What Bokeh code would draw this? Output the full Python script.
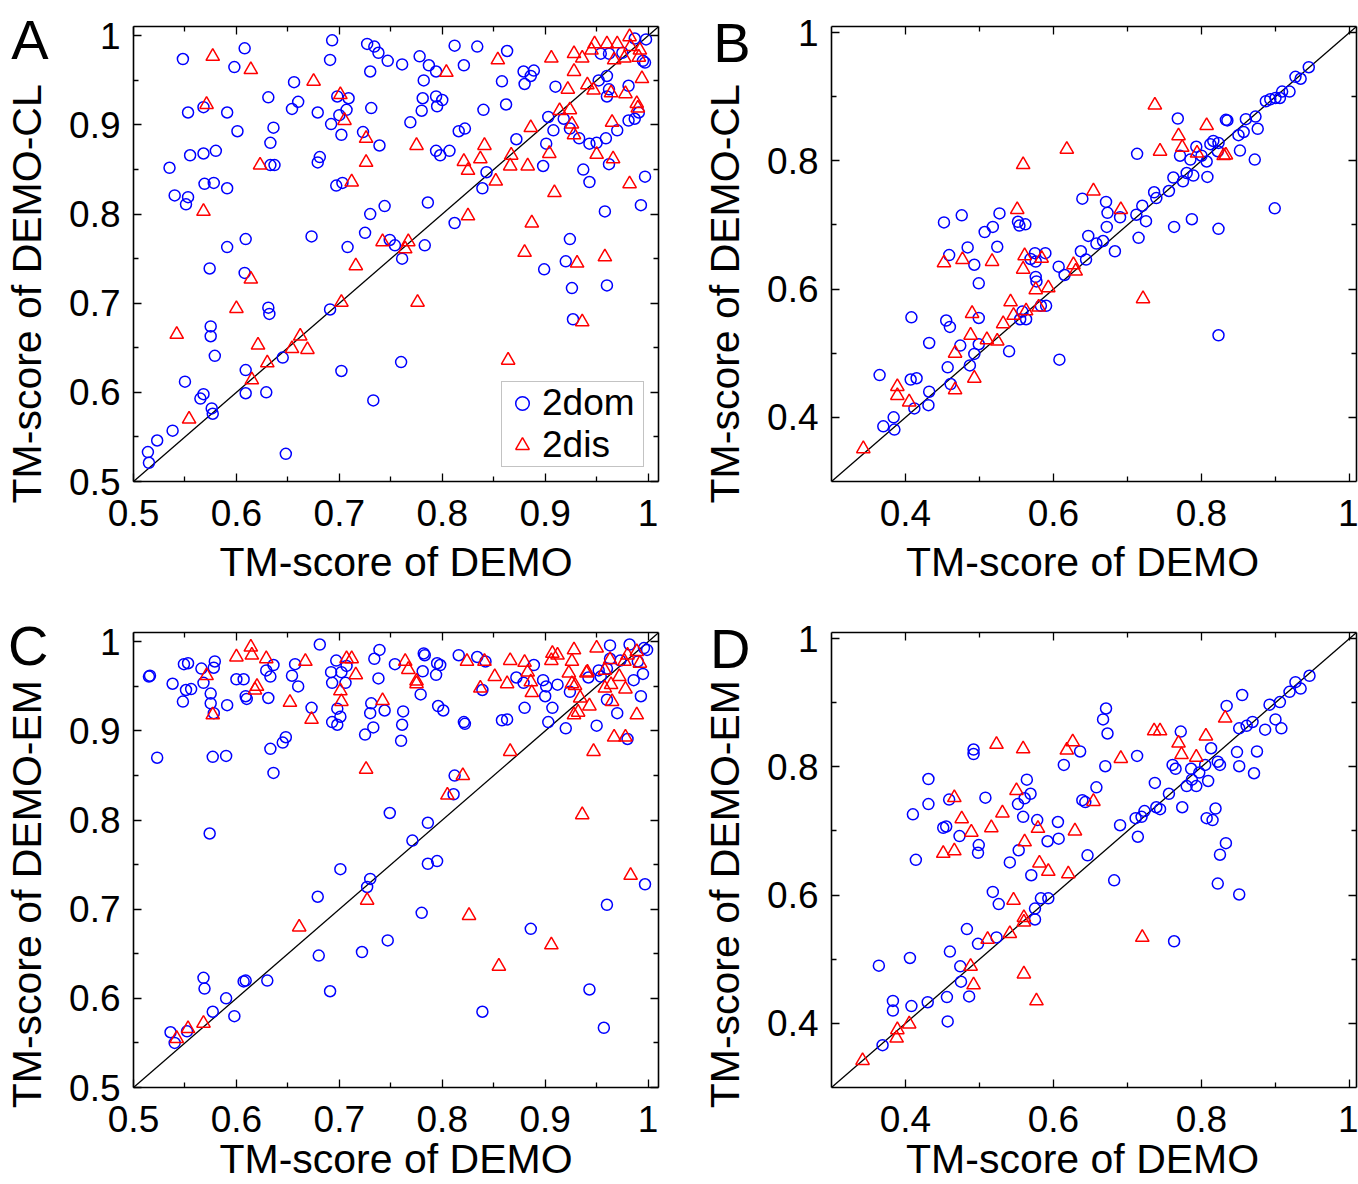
import math
from bokeh.plotting import figure
from bokeh.models import (Range1d, LinearAxis, FixedTicker, Legend, LegendItem)
from bokeh.layouts import row, column
from bokeh.embed import file_html
from bokeh.resources import INLINE

FONT = "Liberation Sans"
BLUE = "#0000ff"
RED = "#ff0000"
NBSP = "\u00a0"

# ---------------- tick values / labels ----------------
AC_TICKS = [0.5, 0.6, 0.7, 0.8, 0.9, 1.0]
AC_LABELS = ["0.5", "0.6", "0.7", "0.8", "0.9", "1"]
AC_MINOR = [0.55, 0.65, 0.75, 0.85, 0.95]
AC_RANGE_X = [0.5, 1.0101]
AC_RANGE_Y = [0.5, 1.0105]

BD_TICKS = [0.4, 0.6, 0.8, 1.0]
BD_LABELS = ["0.4", "0.6", "0.8", "1"]
BD_MINOR = [0.5, 0.7, 0.9]
BD_RANGE = [0.3, 1.0095]

XTITLE = "TM-score of DEMO"
YTITLE_CL = "TM-score of DEMO-CL"
YTITLE_EM = "TM-score of DEMO-EM"
LETTERS = ["A", "B", "C", "D"]

# ---------------- panel A (DEMO vs DEMO-CL, 0.5-1) ----------------
A_DOM = [(0.548,0.974),(0.608,0.986),(0.598,0.965),(0.553,0.914),(0.568,0.920),(0.591,0.914),(0.601,0.893),
         (0.535,0.852),(0.555,0.866),(0.568,0.868),(0.580,0.871),(0.540,0.821),(0.553,0.819),(0.551,0.811),
         (0.569,0.834),(0.578,0.835),(0.591,0.829),(0.591,0.763),(0.609,0.772),(0.574,0.739),(0.608,0.734),
         (0.631,0.931),(0.636,0.897),(0.633,0.880),(0.633,0.855),(0.637,0.855),(0.656,0.948),(0.660,0.926),
         (0.654,0.918),(0.679,0.914),(0.693,0.995),(0.691,0.973),(0.692,0.901),(0.681,0.864),(0.679,0.858),
         (0.698,0.932),(0.709,0.930),(0.700,0.911),(0.707,0.917),(0.702,0.889),(0.697,0.832),(0.703,0.835),
         (0.673,0.775),(0.708,0.763),(0.725,0.779),(0.730,0.800),(0.744,0.809),(0.727,0.991),(0.734,0.988),
         (0.738,0.981),(0.747,0.972),(0.730,0.960),(0.731,0.919),(0.723,0.892),(0.739,0.877),(0.761,0.968),
         (0.778,0.977),(0.787,0.967),(0.794,0.960),(0.782,0.950),(0.781,0.930),(0.780,0.916),(0.794,0.932),
         (0.800,0.928),(0.795,0.921),(0.769,0.903),(0.794,0.871),(0.798,0.866),(0.807,0.871),(0.786,0.813),
         (0.749,0.771),(0.754,0.765),(0.783,0.765),(0.761,0.750),(0.812,0.989),(0.821,0.967),(0.834,0.988),
         (0.840,0.917),(0.816,0.893),(0.822,0.896),(0.843,0.847),(0.839,0.829),(0.812,0.790),(0.863,0.983),
         (0.858,0.949),(0.862,0.923),(0.872,0.884),(0.879,0.960),(0.880,0.946),(0.886,0.955),(0.889,0.961),
         (0.910,0.943),(0.903,0.909),(0.908,0.894),(0.901,0.879),(0.898,0.854),(0.918,0.907),(0.924,0.896),
         (0.933,0.885),(0.943,0.879),(0.950,0.880),(0.959,0.885),(0.937,0.850),(0.943,0.836),(0.962,0.856),
         (0.970,0.894),(0.954,0.980),(0.962,0.980),(0.952,0.950),(0.960,0.955),(0.962,0.940),(0.960,0.932),
         (0.981,0.944),(0.981,0.905),(0.987,0.907),(0.991,0.914),(0.997,0.842),(0.993,0.810),(0.958,0.803),
         (0.995,0.972),(0.997,0.970),(0.998,0.996),(0.987,0.997),(0.924,0.772),(0.920,0.747),(0.899,0.738),
         (0.926,0.717),(0.960,0.720),(0.975,0.981),
         (0.514,0.533),(0.515,0.521),(0.523,0.546),(0.538,0.557),(0.550,0.612),(0.565,0.593),(0.568,0.598),
         (0.576,0.582),(0.577,0.576),(0.575,0.674),(0.575,0.663),(0.579,0.641),(0.609,0.625),(0.609,0.599),
         (0.629,0.600),(0.631,0.695),(0.632,0.688),(0.645,0.639),(0.648,0.531),(0.691,0.693),(0.702,0.624),
         (0.733,0.591),(0.760,0.634),(0.927,0.682)]
A_DIS = [(0.577,0.977),(0.614,0.962),(0.571,0.923),(0.623,0.855),(0.568,0.803),(0.614,0.727),(0.675,0.949),
         (0.701,0.934),(0.705,0.905),(0.726,0.885),(0.726,0.858),(0.712,0.836),(0.716,0.742),(0.742,0.769),
         (0.767,0.769),(0.764,0.761),(0.775,0.877),(0.804,0.959),(0.821,0.859),(0.825,0.849),(0.837,0.862),
         (0.841,0.877),(0.852,0.837),(0.825,0.798),(0.854,0.973),(0.867,0.866),(0.866,0.854),(0.883,0.854),
         (0.886,0.897),(0.887,0.790),(0.880,0.757),(0.904,0.868),(0.906,0.975),(0.914,0.916),(0.924,0.917),
         (0.926,0.901),(0.928,0.889),(0.922,0.940),(0.928,0.960),(0.928,0.980),(0.936,0.975),(0.945,0.984),
         (0.941,0.945),(0.947,0.939),(0.950,0.867),(0.966,0.862),(0.965,0.903),(0.964,0.936),(0.978,0.935),
         (0.989,0.924),(0.994,0.952),(0.948,0.991),(0.960,0.991),(0.970,0.991),(0.982,0.999),(0.967,0.973),
         (0.977,0.975),(0.991,0.976),(0.982,0.834),(0.958,0.752),(0.931,0.745),(0.909,0.824),(0.983,0.988),
         (0.992,0.984),(0.990,0.919),
         (0.542,0.665),(0.554,0.570),(0.600,0.694),(0.615,0.614),(0.621,0.653),(0.630,0.633),(0.654,0.649),
         (0.662,0.663),(0.669,0.648),(0.702,0.701),(0.776,0.701),(0.864,0.636),(0.936,0.679)]

# ---------------- panel B (DEMO vs DEMO-CL, 0.3-1) ----------------
B_DOM = [(0.365,0.466),(0.370,0.386),(0.384,0.400),(0.385,0.381),(0.407,0.459),(0.415,0.461),(0.412,0.414),
         (0.431,0.419),(0.432,0.440),(0.432,0.516),(0.408,0.556),(0.455,0.551),(0.460,0.541),(0.457,0.478),
         (0.461,0.452),(0.452,0.704),(0.459,0.653),(0.476,0.715),(0.484,0.665),(0.493,0.638),(0.499,0.609),
         (0.474,0.512),(0.487,0.481),(0.493,0.499),(0.499,0.555),(0.499,0.514),(0.507,0.689),(0.518,0.697),
         (0.524,0.666),(0.527,0.718),(0.540,0.503),(0.552,0.705),(0.554,0.699),(0.562,0.701),(0.558,0.565),
         (0.555,0.553),(0.563,0.553),(0.569,0.647),(0.575,0.656),(0.576,0.619),(0.577,0.612),(0.576,0.643),
         (0.589,0.656),(0.590,0.574),(0.583,0.574),(0.608,0.490),(0.607,0.635),(0.615,0.622),(0.637,0.659),
         (0.639,0.741),(0.644,0.646),(0.647,0.683),(0.658,0.671),(0.667,0.675),(0.672,0.697),(0.673,0.719),
         (0.671,0.736),(0.683,0.659),(0.690,0.712),(0.712,0.716),(0.715,0.680),(0.720,0.730),(0.725,0.706),
         (0.713,0.811),(0.736,0.751),(0.739,0.742),(0.756,0.753),(0.762,0.774),(0.763,0.697),(0.768,0.866),
         (0.771,0.808),(0.775,0.768),(0.780,0.781),(0.787,0.709),(0.789,0.777),(0.785,0.802),(0.793,0.822),
         (0.800,0.808),(0.807,0.799),(0.808,0.775),(0.812,0.826),(0.816,0.831),(0.823,0.828),(0.822,0.815),
         (0.823,0.694),(0.823,0.528),(0.833,0.864),(0.835,0.863),(0.850,0.840),(0.852,0.816),(0.857,0.845),
         (0.860,0.865),(0.873,0.869),(0.876,0.850),(0.872,0.802),(0.887,0.893),(0.893,0.896),(0.900,0.898),
         (0.906,0.898),(0.909,0.908),(0.919,0.908),(0.899,0.726),(0.927,0.931),(0.934,0.928),(0.945,0.946)]
B_DIS = [(0.343,0.351),(0.389,0.448),(0.389,0.434),(0.405,0.424),(0.452,0.641),(0.467,0.500),(0.467,0.443),
         (0.477,0.646),(0.490,0.562),(0.488,0.528),(0.493,0.461),(0.510,0.521),(0.517,0.643),(0.524,0.519),
         (0.532,0.546),(0.542,0.580),(0.551,0.724),(0.546,0.559),(0.559,0.794),(0.559,0.631),(0.561,0.652),
         (0.563,0.566),(0.576,0.599),(0.580,0.572),(0.584,0.648),(0.593,0.602),(0.618,0.818),(0.627,0.638),
         (0.630,0.628),(0.654,0.753),(0.691,0.724),(0.721,0.585),(0.737,0.887),(0.744,0.815),(0.769,0.839),
         (0.774,0.821),(0.794,0.812),(0.807,0.855),(0.833,0.809),(0.830,0.808)]

# ---------------- panel C (DEMO vs DEMO-EM, 0.5-1) ----------------
C_DOM = [(0.515,0.961),(0.516,0.962),(0.523,0.870),(0.538,0.953),(0.549,0.975),(0.553,0.976),(0.551,0.946),
         (0.556,0.947),(0.548,0.933),(0.566,0.970),(0.568,0.954),(0.579,0.978),(0.578,0.971),(0.575,0.942),
         (0.575,0.931),(0.578,0.920),(0.577,0.871),(0.590,0.872),(0.591,0.929),(0.600,0.958),(0.607,0.958),
         (0.609,0.939),(0.610,0.936),(0.629,0.968),(0.636,0.974),(0.633,0.961),(0.631,0.937),(0.633,0.880),
         (0.648,0.893),(0.645,0.887),(0.636,0.853),(0.654,0.962),(0.657,0.975),(0.660,0.950),(0.673,0.926),
         (0.681,0.997),(0.692,0.966),(0.693,0.954),(0.697,0.979),(0.702,0.966),(0.707,0.973),(0.706,0.954),
         (0.698,0.925),(0.701,0.916),(0.698,0.907),(0.693,0.910),(0.734,0.981),(0.739,0.991),(0.738,0.959),
         (0.731,0.931),(0.730,0.920),(0.744,0.923),(0.733,0.904),(0.725,0.896),(0.754,0.975),(0.762,0.922),
         (0.761,0.907),(0.760,0.889),(0.779,0.941),(0.781,0.967),(0.782,0.987),(0.783,0.985),(0.795,0.976),
         (0.798,0.974),(0.794,0.963),(0.796,0.928),(0.801,0.923),(0.816,0.985),(0.822,0.908),(0.821,0.910),
         (0.834,0.983),(0.842,0.978),(0.839,0.946),(0.812,0.850),(0.811,0.829),(0.858,0.912),(0.863,0.913),
         (0.872,0.960),(0.880,0.926),(0.889,0.974),(0.879,0.954),(0.898,0.957),(0.901,0.950),(0.900,0.939),
         (0.907,0.926),(0.903,0.910),(0.912,0.952),(0.920,0.903),(0.924,0.944),(0.942,0.960),(0.952,0.968),
         (0.960,0.970),(0.963,0.996),(0.963,0.981),(0.960,0.935),(0.950,0.906),(0.970,0.920),(0.980,0.891),
         (0.982,0.997),(0.990,0.978),(0.986,0.957),(0.995,0.964),(0.993,0.939),(0.996,0.993),(0.999,0.991),
         (0.973,0.979),(0.954,0.961),
         (0.749,0.808),(0.786,0.797),(0.574,0.785),(0.771,0.777),(0.786,0.751),(0.795,0.754),(0.701,0.745),
         (0.730,0.734),(0.727,0.725),(0.679,0.714),(0.780,0.696),(0.886,0.678),(0.747,0.665),(0.997,0.728),
         (0.960,0.705),(0.680,0.648),(0.722,0.652),(0.568,0.623),(0.569,0.611),(0.609,0.620),(0.607,0.619),
         (0.630,0.620),(0.590,0.600),(0.598,0.580),(0.577,0.585),(0.691,0.608),(0.839,0.585),(0.943,0.610),
         (0.957,0.567),(0.536,0.562),(0.552,0.563),(0.540,0.550)]
C_DIS = [(0.614,0.994),(0.615,0.985),(0.600,0.983),(0.629,0.981),(0.571,0.962),(0.577,0.918),(0.620,0.950),
         (0.618,0.946),(0.652,0.932),(0.667,0.978),(0.673,0.913),(0.707,0.981),(0.712,0.981),(0.716,0.963),
         (0.701,0.945),(0.702,0.933),(0.742,0.934),(0.726,0.857),(0.764,0.978),(0.767,0.969),(0.775,0.956),
         (0.775,0.953),(0.824,0.978),(0.841,0.978),(0.851,0.961),(0.837,0.948),(0.863,0.953),(0.866,0.979),
         (0.880,0.977),(0.883,0.966),(0.886,0.955),(0.887,0.943),(0.866,0.877),(0.820,0.850),(0.805,0.828),
         (0.907,0.987),(0.912,0.985),(0.906,0.979),(0.928,0.991),(0.926,0.978),(0.923,0.965),(0.926,0.953),
         (0.929,0.951),(0.940,0.965),(0.934,0.937),(0.943,0.928),(0.928,0.918),(0.932,0.921),(0.950,0.993),
         (0.963,0.980),(0.958,0.968),(0.958,0.948),(0.964,0.952),(0.972,0.961),(0.977,0.978),(0.980,0.985),
         (0.978,0.947),(0.965,0.933),(0.992,0.976),(0.989,0.918),(0.967,0.893),(0.978,0.893),(0.947,0.877),
         (0.989,0.989),(0.941,0.966),
         (0.542,0.555),(0.553,0.566),(0.568,0.572),(0.661,0.680),(0.727,0.710),(0.826,0.693),(0.855,0.636),
         (0.906,0.660),(0.983,0.738),(0.936,0.806)]

# ---------------- panel D (DEMO vs DEMO-EM, 0.3-1) ----------------
D_DOM = [(0.364,0.490),(0.369,0.366),(0.383,0.435),(0.383,0.420),(0.408,0.427),(0.406,0.502),(0.410,0.726),
         (0.414,0.655),(0.431,0.781),(0.431,0.742),(0.430,0.433),(0.451,0.705),(0.455,0.707),(0.459,0.749),
         (0.456,0.441),(0.457,0.403),(0.460,0.512),(0.473,0.692),(0.474,0.489),(0.475,0.465),(0.483,0.547),
         (0.486,0.442),(0.492,0.827),(0.492,0.820),(0.499,0.678),(0.498,0.666),(0.498,0.524),(0.508,0.752),
         (0.518,0.605),(0.526,0.586),(0.523,0.534),(0.541,0.651),(0.552,0.742),(0.553,0.670),(0.559,0.722),
         (0.561,0.751),(0.564,0.780),(0.569,0.758),(0.570,0.631),(0.575,0.579),(0.575,0.562),(0.578,0.717),
         (0.583,0.595),(0.593,0.595),(0.592,0.684),(0.606,0.714),(0.607,0.688),(0.614,0.803),(0.636,0.824),
         (0.639,0.748),(0.643,0.745),(0.646,0.662),(0.658,0.768),(0.667,0.874),(0.671,0.891),(0.673,0.852),
         (0.670,0.801),(0.682,0.623),(0.690,0.709),(0.711,0.720),(0.713,0.817),(0.714,0.691),(0.719,0.722),
         (0.723,0.731),(0.737,0.775),(0.739,0.737),(0.744,0.734),(0.756,0.758),(0.761,0.803),(0.765,0.797),
         (0.763,0.528),(0.772,0.855),(0.774,0.737),(0.780,0.770),(0.786,0.797),(0.787,0.780),(0.793,0.770),
         (0.797,0.791),(0.805,0.803),(0.809,0.778),(0.807,0.720),(0.813,0.829),(0.815,0.717),(0.819,0.735),
         (0.822,0.808),(0.825,0.803),(0.825,0.663),(0.822,0.618),(0.833,0.681),(0.834,0.895),(0.848,0.823),
         (0.851,0.801),(0.851,0.601),(0.855,0.912),(0.851,0.860),(0.861,0.864),(0.869,0.870),(0.871,0.790),
         (0.875,0.824),(0.886,0.858),(0.892,0.897),(0.900,0.874),(0.906,0.901),(0.908,0.860),(0.919,0.917),
         (0.927,0.932),(0.934,0.922),(0.946,0.942)]
D_DIS = [(0.342,0.342),(0.388,0.377),(0.389,0.390),(0.405,0.399),(0.451,0.665),(0.466,0.752),(0.466,0.669),
         (0.476,0.719),(0.489,0.698),(0.488,0.489),(0.492,0.460),(0.511,0.531),(0.516,0.705),(0.523,0.835),
         (0.531,0.728),(0.541,0.540),(0.550,0.763),(0.546,0.592),(0.559,0.828),(0.561,0.683),(0.560,0.565),
         (0.560,0.558),(0.560,0.477),(0.577,0.435),(0.579,0.704),(0.581,0.650),(0.593,0.637),(0.618,0.826),
         (0.626,0.839),(0.620,0.633),(0.629,0.700),(0.654,0.746),(0.691,0.813),(0.720,0.534),(0.736,0.856),
         (0.744,0.856),(0.769,0.837),(0.773,0.819),(0.793,0.815),(0.806,0.848),(0.832,0.876)]


def base_axis(ticks, minor):
    ax = LinearAxis(ticker=FixedTicker(ticks=ticks, minor_ticks=minor))
    ax.axis_line_color = "black"
    ax.axis_line_width = 1.6
    ax.major_tick_in = 8
    ax.major_tick_out = 0
    ax.minor_tick_in = 5
    ax.minor_tick_out = 0
    ax.major_tick_line_color = "black"
    ax.major_tick_line_width = 1.3
    ax.minor_tick_line_color = "black"
    ax.minor_tick_line_width = 1.3
    return ax


def label_axis(ax, ticks, labels, standoff, title, title_standoff):
    ax.major_label_overrides = {t: l for t, l in zip(ticks, labels)}
    ax.major_label_text_font = FONT
    ax.major_label_text_font_size = "37px"
    ax.major_label_text_color = "black"
    ax.major_label_standoff = standoff
    ax.axis_label = title
    ax.axis_label_text_font = FONT
    ax.axis_label_text_font_size = "41px"
    ax.axis_label_text_font_style = "normal"
    ax.axis_label_text_color = "black"
    ax.axis_label_standoff = title_standoff


def panel(letter, letter_y, letter_standoff, ytitle, xr, yr, ticks, labels, minor, dom, dis,
          width, height, bl, br, bt, bb, y_pad, x_pad, x_title_standoff, legend=False):
    p = figure(width=width, height=height,
               x_range=Range1d(xr[0], xr[1]), y_range=Range1d(yr[0], yr[1]),
               output_backend="svg", toolbar_location=None,
               x_axis_location=None, y_axis_location=None,
               min_border_left=bl, min_border_right=br,
               min_border_top=bt, min_border_bottom=bb)
    p.outline_line_color = None
    p.grid.visible = False
    p.background_fill_color = "white"
    p.border_fill_color = "white"

    below = base_axis(ticks, minor)
    label_axis(below, ticks, labels, 18, XTITLE + NBSP * x_pad, x_title_standoff)
    p.add_layout(below, "below")

    left = base_axis(ticks, minor)
    label_axis(left, ticks, labels, 13, ytitle + NBSP * y_pad, 16)
    p.add_layout(left, "left")

    # outer left axis carrying only the panel letter as its single tick label
    lt = LinearAxis(ticker=FixedTicker(ticks=[letter_y], minor_ticks=[]))
    lt.axis_line_color = None
    lt.major_tick_line_color = None
    lt.minor_tick_line_color = None
    lt.major_tick_in = 0
    lt.major_tick_out = 0
    lt.major_label_overrides = {letter_y: letter}
    lt.major_label_text_font = FONT
    lt.major_label_text_font_size = "56px"
    lt.major_label_text_color = "black"
    lt.major_label_standoff = letter_standoff
    p.add_layout(lt, "left")

    for side in ("above", "right"):
        ax = base_axis(ticks, minor)
        ax.major_label_text_font_size = "1px"
        ax.major_label_text_color = None
        ax.major_label_standoff = 0
        p.add_layout(ax, side)

    lo, hi = xr[0], xr[1]
    p.line([lo, hi], [lo, hi], line_color="black", line_width=1.3)

    r_dom = p.scatter([d[0] for d in dom], [d[1] for d in dom], marker="circle", size=11,
                      fill_color=None, line_color=BLUE, line_width=1.5)
    r_dis = p.scatter([d[0] for d in dis], [d[1] for d in dis], marker="triangle", size=13.5,
                      fill_color=None, line_color=RED, line_width=1.5)

    if legend:
        lg = Legend(items=[LegendItem(label="2dom", renderers=[r_dom]),
                           LegendItem(label="2dis", renderers=[r_dis])],
                    location="bottom_right")
        lg.margin = 14
        lg.padding = 0
        lg.spacing = -6
        lg.glyph_width = 40
        lg.glyph_height = 34
        lg.label_standoff = 0
        lg.label_width = 101
        lg.label_text_font = FONT
        lg.label_text_font_size = "37px"
        lg.label_text_color = "black"
        lg.border_line_color = "#888888"
        lg.border_line_width = 1.2
        lg.background_fill_color = "white"
        lg.background_fill_alpha = 1.0
        p.add_layout(lg)
    return p


pA = panel(LETTERS[0], 0.9955, -47, YTITLE_CL, AC_RANGE_X, AC_RANGE_Y, AC_TICKS, AC_LABELS, AC_MINOR,
           A_DOM, A_DIS, 688, 608, 133, 30, 26, 126, 7, 0, 10, legend=True)
pB = panel(LETTERS[1], 0.984, -51, YTITLE_CL, BD_RANGE, BD_RANGE, BD_TICKS, BD_LABELS, BD_MINOR,
           B_DOM, B_DIS, 670, 608, 143, 2, 26, 127, 7, 2, 10)
pC = panel(LETTERS[2], 0.9955, -47, YTITLE_EM, AC_RANGE_X, AC_RANGE_Y, AC_TICKS, AC_LABELS, AC_MINOR,
           C_DOM, C_DIS, 688, 576, 133, 30, 24, 97, 6, 0, 1)
pD = panel(LETTERS[3], 0.985, -51, YTITLE_EM, BD_RANGE, BD_RANGE, BD_TICKS, BD_LABELS, BD_MINOR,
           D_DOM, D_DIS, 670, 576, 143, 2, 24, 97, 6, 2, 1)

layout = column(row(pA, pB, spacing=0), row(pC, pD, spacing=0), spacing=0)

with open("out.html", "w") as f:
    f.write(file_html(layout, INLINE, title="TM-score comparison"))
